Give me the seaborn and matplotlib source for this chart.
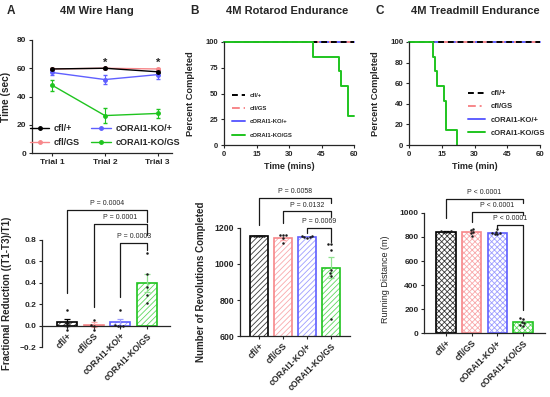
import numpy as np
import pandas as pd
import matplotlib
matplotlib.use("Agg")
import matplotlib.pyplot as plt
from matplotlib.lines import Line2D
import seaborn as sns

sns.set_theme(style="ticks")
plt.rcParams["font.family"] = ["Liberation Sans", "DejaVu Sans"]
plt.rcParams["hatch.linewidth"] = 0.6
plt.rcParams["axes.linewidth"] = 0.9

groups = ["cfl/+", "cfl/GS", "cORAI1-KO/+", "cORAI1-KO/GS"]
colors = ["#000000", "#f7878a", "#5f5fff", "#1fc41f"]
hatch_colors = ["#3a3a3a", "#f9a9ab", "#9d9dff", "#5fd85f"]
err_colors = ["#000000", "#f9a9ab", "#9d9dff", "#8fe08f"]

# A (top): wire hang, mean and SEM per trial
trials = ["Trial 1", "Trial 2", "Trial 3"]
hang_cfl = [59.5, 60.0, 57.5]
hang_cfl_sem = [0.5, 0.3, 1.0]
hang_cfl_gs = [59.5, 60.0, 59.5]
hang_cfl_gs_sem = [0.5, 0.3, 0.5]
hang_ko = [57.0, 52.0, 55.5]
hang_ko_sem = [2.0, 3.5, 3.0]
hang_ko_gs = [48.0, 26.5, 28.0]
hang_ko_gs_sem = [4.0, 5.5, 3.3]

# A (bottom): fractional reduction
frac_mean = [0.03, 0.01, 0.03, 0.40]
frac_sem = [0.035, 0.02, 0.03, 0.085]
frac_pts = [[0.15, 0.02, 0.02, 0.0, -0.04],
            [0.05, 0.01, 0.0, -0.04],
            [0.15, 0.01, 0.0, 0.0, 0.0],
            [0.68, 0.48, 0.36, 0.29, 0.21]]
frac_p = ["P = 0.0004", "P = 0.0001", "P = 0.0003"]

# B (top): rotarod survival
rot_ctrl_t = [0, 60]
rot_ctrl_p = [100, 100]
rot_ko_gs_t = [0, 41, 53, 54, 57, 60]
rot_ko_gs_p = [100, 85.7, 71.4, 57.1, 28.6, 28.6]

# B (bottom): revolutions completed
rev_mean = [1155, 1143, 1150, 980]
rev_sem = [2, 8, 2, 60]
rev_pts = [[1155, 1155, 1155, 1155, 1155],
           [1160, 1160, 1160, 1145, 1118],
           [1155, 1153, 1150, 1148, 1146],
           [1111, 1111, 1078, 967, 948, 935, 695]]
rev_p = ["P = 0.0058", "P = 0.0132", "P = 0.0069"]

# C (top): treadmill survival
tread_ctrl_t = [0, 60]
tread_ctrl_p = [100, 100]
tread_ko_gs_t = [0, 11, 12, 13, 16, 17, 22]
tread_ko_gs_p = [100, 85.7, 71.4, 57.1, 42.9, 14.3, 0]

# C (bottom): running distance
run_mean = [845, 840, 836, 92]
run_sem = [3, 10, 7, 10]
run_pts = [[848, 846, 845, 844, 842],
           [867, 858, 844, 830, 810],
           [870, 845, 835, 832, 828, 826],
           [122, 117, 94, 81, 67, 61]]
run_p = ["P < 0.0001", "P < 0.0001", "P < 0.0001"]

fig = plt.figure(figsize=(5.5, 3.97), dpi=100)


def px_axes(l, r, t, b):
    return fig.add_axes([l / 550, 1 - b / 397, (r - l) / 550, (b - t) / 397])


def style(ax, size=6):
    sns.despine(ax=ax)
    ax.tick_params(length=2.5, width=0.8, pad=1.5, labelsize=size)
    for lab in ax.get_xticklabels() + ax.get_yticklabels():
        lab.set_fontweight("bold")


def bracket(ax, x1, x2, top, y1, y2, label, dy):
    ax.plot([x1, x1, x2, x2], [y1, top, top, y2], color="k", lw=0.9,
            clip_on=False)
    ax.text((x1 + x2) / 2, top + dy, label, ha="center", va="bottom",
            fontsize=5)


def bar_panel(ax, means, sems, pts, hatch):
    x = np.arange(len(groups))
    width = 0.75
    ax.bar(x, means, width, color="white", edgecolor=hatch_colors,
           hatch=hatch, lw=0)
    ax.bar(x, means, width, fill=False, edgecolor=colors, lw=1.2)
    for i in range(len(groups)):
        ax.errorbar(x[i], means[i], yerr=sems[i], fmt="none",
                    ecolor=err_colors[i], capsize=2, lw=0.9, capthick=0.9)
    df = pd.DataFrame([(groups[i], v) for i in range(len(groups))
                       for v in pts[i]], columns=["group", "value"])
    sns.swarmplot(data=df, x="group", y="value", order=groups, color="k",
                  size=1.8, ax=ax)
    ax.set_xlabel("")
    ax.set_xticks(x)
    ax.set_xticklabels(groups, rotation=45, ha="right",
                       rotation_mode="anchor")


# ---------- A top ----------
ax = px_axes(32, 172, 40, 153)
xt = np.arange(len(trials))
series = [(hang_cfl_gs, hang_cfl_gs_sem, 1), (hang_ko_gs, hang_ko_gs_sem, 3),
          (hang_ko, hang_ko_sem, 2), (hang_cfl, hang_cfl_sem, 0)]
for vals, sem, i in series:
    ax.errorbar(xt, vals, yerr=sem, color=colors[i], marker="o",
                markersize=2.5, lw=1, capsize=1.5, elinewidth=0.8)
handles = [Line2D([], [], color=c, marker="o", markersize=2.5, lw=1)
           for c in colors]
ax.legend(handles, groups, ncol=2, frameon=False,
          loc="lower center", bbox_to_anchor=(0.52, -0.02),
          prop={"size": 6.5, "weight": "bold"}, handlelength=2.2,
          columnspacing=1.2, handletextpad=0.5, labelspacing=0.6)
for xi in [1, 2]:
    ax.text(xi, 64, "*", ha="center", va="center", fontsize=8,
            fontweight="bold")
ax.set_xlim(-0.38, 2.27)
ax.set_ylim(0, 80)
ax.set_yticks([0, 20, 40, 60, 80])
ax.set_xticks(xt)
ax.set_xticklabels(trials)
ax.set_ylabel("Time (sec)", fontsize=7.3, fontweight="bold")
ax.yaxis.set_label_coords(-0.15, 0.5)
style(ax, 6)

# ---------- A bottom ----------
ax = px_axes(42, 170, 240, 347)
ax.spines["bottom"].set_position(("data", 0))
bar_panel(ax, frac_mean, frac_sem, frac_pts, "//////")
ax.set_xlim(-0.94, 3.86)
ax.set_ylim(-0.2, 0.8)
ax.set_yticks([-0.2, 0.0, 0.2, 0.4, 0.6, 0.8])
ax.set_ylabel("Fractional Reduction ((T1-T3)/T1)", fontsize=7,
              fontweight="bold")
ax.yaxis.set_label_coords(-0.235, 0.5)
style(ax, 6)
for lab in ax.get_xticklabels():
    lab.set_fontsize(6.3)
bracket(ax, 0, 3, 1.079, 0.307, 0.967, frac_p[0], 0.025)
bracket(ax, 1, 3, 0.949, 0.177, 0.847, frac_p[1], 0.025)
bracket(ax, 2, 3, 0.772, 0.27, 0.707, frac_p[2], 0.025)


def km_panel(ax, ctrl_t, ctrl_p, ko_t, ko_p, xlabel, yticks, leg_anchor,
             leg_size, spacing):
    sns.lineplot(x=ctrl_t, y=ctrl_p, color=colors[2], lw=1.4, ax=ax,
                 label=groups[2], clip_on=False)
    sns.lineplot(x=ctrl_t, y=ctrl_p, color=colors[1], lw=1.4, ax=ax,
                 label=groups[1], clip_on=False, dashes=False,
                 linestyle=(0, (4, 2, 1, 2)))
    sns.lineplot(x=ctrl_t, y=ctrl_p, color=colors[0], lw=1.4, ax=ax,
                 label=groups[0], clip_on=False, linestyle=(0, (3, 2)))
    sns.lineplot(x=ko_t, y=ko_p, color=colors[3], lw=1.4, ax=ax,
                 label=groups[3], drawstyle="steps-post", clip_on=False)
    h, l = ax.get_legend_handles_labels()
    order = [l.index(g) for g in groups]
    ax.legend([h[i] for i in order], groups, frameon=False, loc="upper left",
              bbox_to_anchor=leg_anchor, prop={"size": leg_size,
                                               "weight": "bold"},
              handlelength=2.2, handletextpad=0.8, labelspacing=spacing)
    ax.set_xlim(0, 60)
    ax.set_ylim(0, 100)
    ax.set_xticks([0, 15, 30, 45, 60])
    ax.set_yticks(yticks)
    ax.set_xlabel(xlabel, fontsize=6.5, fontweight="bold", labelpad=3)
    ax.set_ylabel("Percent Completed", fontsize=6.7, fontweight="bold")
    ax.yaxis.set_label_coords(-0.22, 0.5)


# ---------- B top ----------
ax = px_axes(224, 354, 42, 145)
km_panel(ax, rot_ctrl_t, rot_ctrl_p, rot_ko_gs_t, rot_ko_gs_p,
         "Time (mins)", [0, 25, 50, 75, 100], (0.02, 0.56), 4.3, 1.35)
style(ax, 5.5)

# ---------- B bottom ----------
ax = px_axes(240, 350, 228, 336)
bar_panel(ax, rev_mean, rev_sem, rev_pts, "//////")
ax.set_xlim(-0.79, 3.79)
ax.set_ylim(600, 1200)
ax.set_yticks([600, 800, 1000, 1200])
ax.set_ylabel("Number of Revolutions Completed", fontsize=7,
              fontweight="bold")
ax.yaxis.set_label_coords(-0.31, 0.5)
style(ax, 6.3)
for lab in ax.get_xticklabels():
    lab.set_fontsize(6.3)
bracket(ax, 0, 3, 1367, 1217, 1339, rev_p[0], 15)
bracket(ax, 1, 3, 1292, 1228, 1261, rev_p[1], 15)
bracket(ax, 2, 3, 1200, 1172, 1122, rev_p[2], 15)

# ---------- C top ----------
ax = px_axes(409, 540, 42, 145)
km_panel(ax, tread_ctrl_t, tread_ctrl_p, tread_ko_gs_t, tread_ko_gs_p,
         "Time (min)", [0, 20, 40, 60, 80, 100], (0.40, 0.60), 5.5, 0.75)
style(ax, 5.7)

# ---------- C bottom ----------
ax = px_axes(424, 545, 213, 333)
bar_panel(ax, run_mean, run_sem, run_pts, "xxxxxx")
ax.set_xlim(-0.86, 3.86)
ax.set_ylim(0, 1000)
ax.set_yticks([0, 200, 400, 600, 800, 1000])
ax.set_ylabel("Running Distance (m)", fontsize=6.5)
ax.yaxis.set_label_coords(-0.28, 0.45)
style(ax, 6)
for lab in ax.get_xticklabels():
    lab.set_fontsize(6.3)
bracket(ax, 0, 3, 1117, 958, 1083, run_p[0], 22)
bracket(ax, 1, 3, 1008, 925, 983, run_p[1], 22)
bracket(ax, 2, 3, 900, 875, 192, run_p[2], 22)

# ---------- panel letters and titles ----------
for x, letter in [(7, "A"), (190, "B"), (375, "C")]:
    fig.text(x / 550, 1 - 11 / 397, letter, fontsize=8.5, fontweight="bold",
             va="center")
for x, title in [(97, "4M Wire Hang"), (287, "4M Rotarod Endurance"),
                 (475, "4M Treadmill Endurance")]:
    fig.text(x / 550, 1 - 11 / 397, title, fontsize=8, fontweight="bold",
             ha="center", va="center")

fig.savefig("out.png", dpi=100)
